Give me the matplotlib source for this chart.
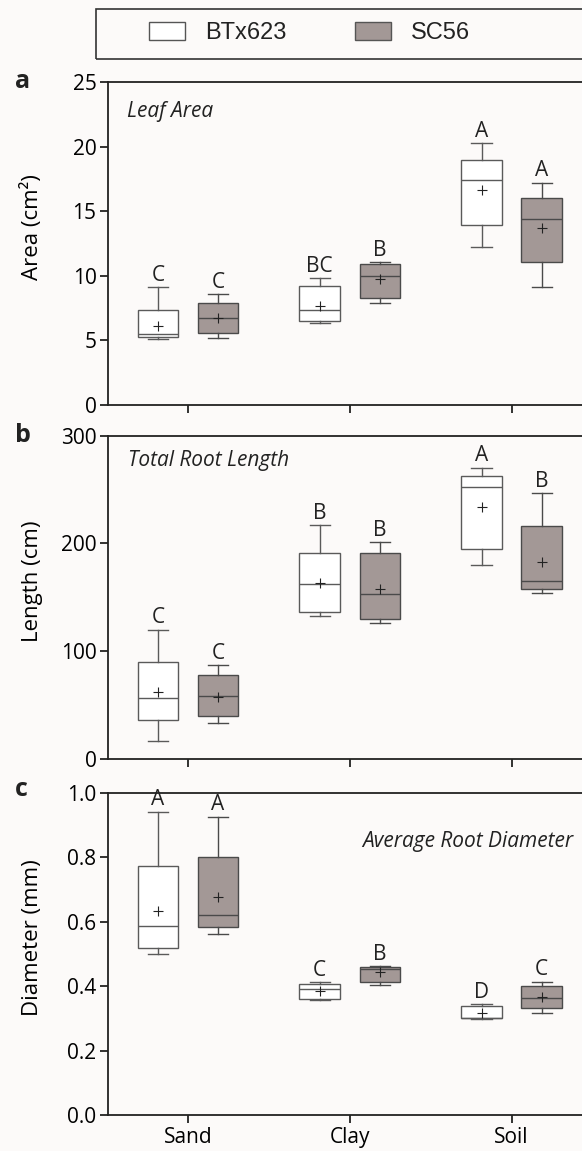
import matplotlib

matplotlib.use("Agg")
import matplotlib.pyplot as plt
from matplotlib.patches import Patch, Rectangle

soils = ["Sand", "Clay", "Soil"]
genotypes = ["BTx623", "SC56"]

# one row per soil: whisker low, Q1, median, Q3, whisker high, mean
leaf_btx = [[5.15, 5.29, 5.47, 7.35, 9.10, 6.10],
            [6.37, 6.50, 7.33, 9.19, 9.83, 7.70],
            [12.2, 13.95, 17.41, 18.93, 20.25, 16.64]]
leaf_sc56 = [[5.20, 5.55, 6.73, 7.92, 8.60, 6.70],
             [7.86, 8.25, 9.98, 10.94, 11.07, 9.72],
             [9.16, 11.04, 14.40, 15.99, 17.20, 13.67]]
length_btx = [[17.0, 35.9, 56.6, 89.7, 120.0, 61.9],
              [132.4, 136.1, 162.4, 191.4, 216.8, 163.0],
              [180.0, 194.9, 252.1, 262.9, 270.3, 233.5]]
length_sc56 = [[33.4, 39.6, 58.2, 77.7, 86.9, 57.9],
               [126.2, 129.9, 153.1, 191.4, 201.0, 158.0],
               [153.7, 157.4, 165.2, 216.2, 246.8, 182.8]]
diam_btx = [[0.500, 0.518, 0.585, 0.774, 0.941, 0.634],
            [0.357, 0.359, 0.391, 0.406, 0.412, 0.386],
            [0.299, 0.300, 0.302, 0.338, 0.344, 0.316]]
diam_sc56 = [[0.562, 0.583, 0.620, 0.800, 0.926, 0.677],
             [0.402, 0.414, 0.454, 0.459, 0.462, 0.443],
             [0.316, 0.331, 0.364, 0.401, 0.414, 0.365]]

leaf_letters_btx = ["C", "BC", "A"]
leaf_letters_sc56 = ["C", "B", "A"]
length_letters_btx = ["C", "B", "A"]
length_letters_sc56 = ["C", "B", "B"]
diam_letters_btx = ["A", "C", "D"]
diam_letters_sc56 = ["A", "B", "C"]

BG = "#fcfaf9"
FILL = "#a39896"
INK = "#222222"
FONT = ["Open Sans", "DejaVu Sans"]
OFFSET = 0.186

plt.rcParams["font.family"] = FONT
plt.rcParams["text.color"] = INK


def _stats(rows):
    return [dict(whislo=r[0], q1=r[1], med=r[2], q3=r[3], whishi=r[4], mean=r[5], fliers=[]) for r in rows]


def _panel(ax, btx, sc56, letters_btx, letters_sc56, ymax, yticks, ylabel, fmt):
    groups = ((btx, letters_btx, -OFFSET, "white", "#5a5a5a"), (sc56, letters_sc56, OFFSET, FILL, "#4a4a4a"))
    for rows, letters, offset, face, edge in groups:
        positions = [i + offset for i in range(len(soils))]
        line = dict(color=edge, linewidth=1.0)
        ax.bxp(_stats(rows), positions=positions, widths=0.25, capwidths=0.125, showmeans=True,
               patch_artist=True, manage_ticks=False,
               boxprops=dict(facecolor=face, edgecolor=edge, linewidth=1.0),
               medianprops=dict(color=edge, linewidth=1.0), whiskerprops=line, capprops=line,
               meanprops=dict(marker="+", markeredgecolor=INK, markersize=6.5, markeredgewidth=0.8))
        for x, row, letter in zip(positions, rows, letters):
            ax.annotate(letter, (x, row[4]), xytext=(0, 1.0), textcoords="offset points",
                        ha="center", va="bottom", fontsize=15)
    ax.set_facecolor(BG)
    ax.set_xlim(-0.494, 2.435)
    ax.set_ylim(0, ymax)
    ax.set_yticks(yticks)
    ax.set_yticklabels([fmt.format(v) for v in yticks])
    ax.set_xticks(range(len(soils)))
    ax.set_ylabel(ylabel, fontsize=16)
    ax.yaxis.set_label_coords(-0.137, 0.55)
    ax.spines["right"].set_visible(False)
    for side in ("left", "bottom", "top"):
        ax.spines[side].set_linewidth(1.3)
        ax.spines[side].set_color(INK)
    ax.tick_params(direction="out", length=5.8, width=1.3, color=INK, labelsize=15, pad=2.5)


fig = plt.figure(figsize=(5.82, 11.51), dpi=100, facecolor=BG)
ax_a = fig.add_axes([0.1856, 0.6481, 0.8144, 0.2806])
ax_b = fig.add_axes([0.1856, 0.3406, 0.8144, 0.2809])
ax_c = fig.add_axes([0.1856, 0.0313, 0.8144, 0.2800])

_panel(ax_a, leaf_btx, leaf_sc56, leaf_letters_btx, leaf_letters_sc56, 25, [0, 5, 10, 15, 20, 25],
       "Area (cm²)", "{:g}")
_panel(ax_b, length_btx, length_sc56, length_letters_btx, length_letters_sc56, 300, [0, 100, 200, 300],
       "Length (cm)", "{:g}")
_panel(ax_c, diam_btx, diam_sc56, diam_letters_btx, diam_letters_sc56, 1.0, [0.0, 0.2, 0.4, 0.6, 0.8, 1.0],
       "Diameter (mm)", "{:.1f}")
ax_a.set_xticklabels([])
ax_b.set_xticklabels([])
ax_c.set_xticklabels(soils, fontsize=15)

ax_a.text(0.04, 0.91, "Leaf Area", transform=ax_a.transAxes, style="italic", fontsize=15, va="center")
ax_b.text(0.042, 0.923, "Total Root Length", transform=ax_b.transAxes, style="italic", fontsize=15, va="center")
ax_c.text(0.981, 0.85, "Average Root Diameter", transform=ax_c.transAxes, style="italic", fontsize=15,
          va="center", ha="right")

for label, y in (("a", 0.9235), ("b", 0.6163), ("c", 0.3084)):
    fig.text(0.026, y, label, fontsize=18, fontweight="bold", va="baseline")

fig.patches.append(Rectangle((0.165, 0.9487), 0.9, 0.0434, transform=fig.transFigure, fill=False,
                             edgecolor="#333333", linewidth=1.2))
handles = [Patch(facecolor="white", edgecolor="#555555", linewidth=1.0),
           Patch(facecolor=FILL, edgecolor="#555555", linewidth=1.0)]
fig.legend(handles, genotypes, loc="center", bbox_to_anchor=(0.532, 0.971), ncol=2, frameon=False,
           handlelength=1.52, handleheight=0.8, handletextpad=0.85, columnspacing=2.9,
           prop={"family": "Liberation Sans", "size": 17})

fig.savefig("out.png", dpi=100, facecolor=BG)
